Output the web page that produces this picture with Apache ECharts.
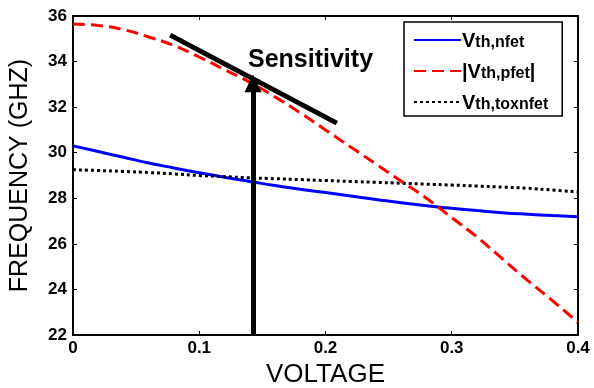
<!DOCTYPE html>
<html><head><meta charset="utf-8">
<script src="https://cdn.jsdelivr.net/npm/echarts@6/dist/echarts.min.js"></script>
<style>html,body{margin:0;padding:0;background:#fff}#c{width:594px;height:388px}</style>
</head><body><div id="c"></div>
<script>
var voltage = [0,0.02,0.04,0.06,0.08,0.1,0.12,0.14,0.16,0.18,0.2,0.22,0.24,0.26,0.28,0.3,0.32,0.34,0.36,0.38,0.4];
var nfet = [30.3,30.05,29.8,29.55,29.33,29.12,28.92,28.74,28.56,28.4,28.25,28.1,27.95,27.8,27.67,27.56,27.46,27.37,27.3,27.24,27.19];
var pfet = [35.65,35.58,35.4,35.08,34.7,34.2,33.65,33.1,32.45,31.75,31.0,30.25,29.5,28.75,28.0,27.15,26.3,25.35,24.4,23.5,22.55];
var toxnfet = [29.25,29.22,29.18,29.13,29.07,29.0,28.95,28.9,28.86,28.82,28.78,28.74,28.7,28.66,28.62,28.58,28.54,28.49,28.44,28.36,28.28];
var sensLineX = [0.077,0.209];
var sensLineY = [35.16,31.3];
var arrowX = 0.1426;
var arrowY = [22,33.05];
var xTicks = [0,0.1,0.2,0.3,0.4];
var yTicks = [22,24,26,28,30,32,34,36];
var names = ['nfet','pfet','toxnfet'];

function zip(x,y){return x.map(function(v,i){return [v,y[i]];});}
var chart = echarts.init(document.getElementById('c'));
var bold = {fontFamily:'Liberation Sans, Arial', fontWeight:'bold', color:'#000'};
var axisCommon = {
  axisLine:{show:true,onZero:false,lineStyle:{color:'#000',width:2}},
  axisTick:{show:true,inside:true,length:4,lineStyle:{color:'#000',width:1}},
  splitLine:{show:false}
};
chart.setOption({
  animation:false,
  backgroundColor:'#fff',
  grid:{left:73,right:16,top:16,bottom:53,containLabel:false,outerBoundsMode:'none'},
  xAxis:[
    Object.assign({type:'value',min:xTicks[0],max:xTicks[xTicks.length-1],interval:0.1,position:'bottom',
      name:'VOLTAGE',nameLocation:'middle',nameGap:26,
      nameTextStyle:{fontFamily:'Liberation Sans, Arial',fontSize:26,color:'#000'},
      axisLabel:Object.assign({fontSize:17,margin:5,formatter:function(v){return String(+v.toFixed(1));}},bold)},axisCommon),
    Object.assign({type:'value',min:xTicks[0],max:xTicks[xTicks.length-1],interval:0.1,position:'top',axisLabel:{show:false}},axisCommon)
  ],
  yAxis:[
    Object.assign({type:'value',min:yTicks[0],max:yTicks[yTicks.length-1],interval:2,position:'left',
      name:'FREQUENCY (GHZ)',nameLocation:'middle',nameGap:40,
      nameTextStyle:{fontFamily:'Liberation Sans, Arial',fontSize:25,color:'#000'},
      axisLabel:Object.assign({fontSize:17,margin:6},bold)},axisCommon),
    Object.assign({type:'value',min:yTicks[0],max:yTicks[yTicks.length-1],interval:2,position:'right',axisLabel:{show:false}},axisCommon)
  ],
  legend:{
    show:true,
    left:404,top:22,
    orient:'vertical',
    padding:[5,14,3,9],
    itemGap:7,
    itemWidth:47,itemHeight:20,
    itemStyle:{opacity:0},
    backgroundColor:'#fff',
    borderColor:'#000',borderWidth:1.5,borderRadius:0,
    data:names,
    formatter:function(n){
      if(n==='nfet') return '{v|V}{s|th,nfet}';
      if(n==='pfet') return '{v||V}{s|th,pfet}{v||}';
      return '{v|V}{s|th,toxnfet}';
    },
    textStyle:{
      padding:[0,0,0,-4],
      rich:{
        v:{fontFamily:'Liberation Sans, Arial',fontWeight:'bold',fontSize:20,color:'#000',verticalAlign:'bottom',lineHeight:22},
        s:{fontFamily:'Liberation Sans, Arial',fontWeight:'bold',fontSize:16,color:'#000',padding:[8,0,0,0],verticalAlign:'bottom',lineHeight:22}
      }
    }
  },
  series:[
    {name:'nfet',type:'line',data:zip(voltage,nfet),symbol:'none',smooth:true,z:3,
      lineStyle:{color:'#0000ff',width:3},itemStyle:{color:'#0000ff'}},
    {name:'pfet',type:'line',data:zip(voltage,pfet),symbol:'none',smooth:true,z:4,
      lineStyle:{color:'#ff0000',width:3,type:[12,6]},itemStyle:{color:'#ff0000'}},
    {name:'toxnfet',type:'line',data:zip(voltage,toxnfet),symbol:'none',smooth:true,z:3,
      lineStyle:{color:'#000',width:3,type:[3,3]},itemStyle:{color:'#000'}},
    {name:'sens',type:'line',data:zip(sensLineX,sensLineY),symbol:'none',z:5,silent:true,
      lineStyle:{color:'#000',width:5},
      markLine:{silent:true,symbol:['none','triangle'],symbolSize:[17,18],
        lineStyle:{color:'#000',width:5,type:'solid'},label:{show:false},
        data:[[{coord:[arrowX,arrowY[0]]},{coord:[arrowX,arrowY[1]]}]]}}
  ],
  graphic:[
    {type:'text',left:248,top:48,style:{text:'Sensitivity',font:'bold 25px "Liberation Sans", Arial',fill:'#000'}}
  ]
});
</script></body></html>
